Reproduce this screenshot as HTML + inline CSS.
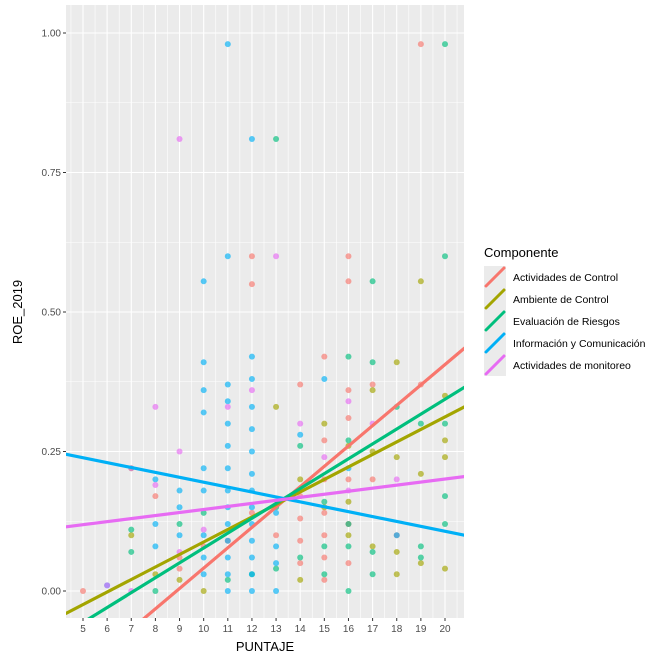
<!DOCTYPE html>
<html><head><meta charset="utf-8"><style>
html,body{margin:0;padding:0;background:#fff;overflow:hidden;width:668px;height:664px}
svg{display:block}
svg text{font-family:"Liberation Sans",sans-serif}
</style></head><body>
<svg id="chart" width="668" height="664" xmlns="http://www.w3.org/2000/svg"></svg>
<script>
const xTicks=[5,6,7,8,9,10,11,12,13,14,15,16,17,18,19,20];
const yTicks=[0,0.25,0.5,0.75,1.0];
const yTickLabels=["0.00","0.25","0.50","0.75","1.00"];
const seriesNames=["Actividades de Control","Ambiente de Control","Evaluación de Riesgos","Información y Comunicación","Actividades de monitoreo"];
const seriesColors=["#F8766D","#A3A500","#00BF7D","#00B0F6","#E76BF3"];
const lineX=[4.3,20.8];
const lineRed=[-0.167,0.435];
const lineOlive=[-0.04,0.33];
const lineGreen=[-0.075,0.365];
const lineBlue=[0.245,0.10];
const linePurple=[0.115,0.205];
const ptsRed=[[5,0],[8,0.17],[9,0.04],[9,0.06],[10,0.08],[11,0.09],[12,0.55],[12,0.6],[12,0.14],[13,0.1],[14,0.05],[14,0.09],[14,0.13],[14,0.17],[14,0.37],[15,0.02],[15,0.06],[15,0.1],[15,0.14],[15,0.2],[15,0.27],[15,0.42],[16,0.6],[16,0.555],[16,0.05],[16,0.12],[16,0.2],[16,0.31],[16,0.36],[17,0.2],[17,0.37],[18,0.1],[19,0.98],[19,0.37]];
const ptsOlive=[[7,0.22],[7,0.1],[8,0.03],[9,0.02],[10,0.0],[13,0.33],[14,0.02],[14,0.2],[15,0.15],[15,0.3],[16,0.1],[16,0.16],[16,0.26],[17,0.08],[17,0.25],[17,0.36],[18,0.03],[18,0.07],[18,0.24],[18,0.41],[19,0.555],[19,0.05],[19,0.21],[20,0.04],[20,0.24],[20,0.27],[20,0.35]];
const ptsGreen=[[7,0.07],[7,0.11],[8,0.0],[9,0.12],[10,0.14],[11,0.02],[12,0.03],[13,0.81],[13,0.04],[13,0.15],[14,0.06],[14,0.26],[15,0.03],[15,0.08],[15,0.16],[16,0.0],[16,0.08],[16,0.12],[16,0.27],[16,0.42],[17,0.555],[17,0.03],[17,0.07],[17,0.41],[18,0.33],[19,0.06],[19,0.08],[19,0.3],[20,0.98],[20,0.6],[20,0.12],[20,0.17],[20,0.3]];
const ptsBlue=[[6,0.01],[8,0.08],[8,0.12],[8,0.2],[9,0.1],[9,0.15],[9,0.18],[10,0.555],[10,0.41],[10,0.36],[10,0.32],[10,0.22],[10,0.18],[10,0.1],[10,0.06],[10,0.03],[11,0.98],[11,0.6],[11,0.37],[11,0.34],[11,0.3],[11,0.26],[11,0.22],[11,0.18],[11,0.15],[11,0.12],[11,0.09],[11,0.06],[11,0.03],[11,0.0],[12,0.81],[12,0.42],[12,0.38],[12,0.33],[12,0.29],[12,0.25],[12,0.21],[12,0.18],[12,0.15],[12,0.12],[12,0.09],[12,0.06],[12,0.03],[12,0.0],[13,0.14],[13,0.08],[13,0.05],[13,0.0],[14,0.28],[15,0.38],[18,0.1],[16,0.22]];
const ptsPurple=[[6,0.01],[7,0.22],[7,0.0],[8,0.33],[8,0.19],[9,0.81],[9,0.25],[9,0.07],[10,0.11],[11,0.33],[12,0.36],[13,0.6],[14,0.3],[15,0.24],[16,0.34],[16,0.18],[17,0.3],[18,0.2]];
const allPts=[ptsRed,ptsOlive,ptsGreen,ptsBlue,ptsPurple];
const allLines=[lineRed,lineOlive,lineGreen,lineBlue,linePurple];

const NS="http://www.w3.org/2000/svg";
const svg=document.getElementById('chart');
const P={l:66,r:464,t:5,b:618};
const X=v=>83+(v-5)*(445-83)/15;
const Y=v=>591-v*558;
function mk(tag,attrs,parent){const e=document.createElementNS(NS,tag);for(const k in attrs)e.setAttribute(k,attrs[k]);(parent||svg).appendChild(e);return e;}

const bg=mk('rect',{x:P.l,y:P.t,width:P.r-P.l,height:P.b-P.t,fill:'#EBEBEB'});


const clip=mk('clipPath',{id:'c'});mk('rect',{x:P.l,y:P.t,width:P.r-P.l,height:P.b-P.t},clip);
const g=mk('g',{'clip-path':'url(#c)'});


for(let v=4.5;v<=21;v+=0.5){mk('line',{x1:X(v),x2:X(v),y1:P.t,y2:P.b,stroke:'#fff','stroke-width':v%1?0.6:1.1},g);}
for(let v=-0.125;v<=1.1;v+=0.125){mk('line',{x1:P.l,x2:P.r,y1:Y(v),y2:Y(v),stroke:'#fff','stroke-width':(v*8)%2?0.6:1.1},g);}
allPts.forEach((arr,si)=>arr.forEach(p=>{
 const c=mk('circle',{cx:X(p[0]),cy:Y(p[1]),r:3,fill:seriesColors[si],'fill-opacity':0.65},g);
 
 
}));
allLines.forEach((L,si)=>{
 const l=mk('line',{x1:X(lineX[0]),y1:Y(L[0]),x2:X(lineX[1]),y2:Y(L[1]),stroke:seriesColors[si],'stroke-width':3.2,'stroke-linecap':'round'},g);
 
 
});
xTicks.forEach(v=>{
 mk('line',{x1:X(v),x2:X(v),y1:P.b,y2:P.b+3,stroke:'#333'});
 const t=mk('text',{x:X(v),y:P.b+14,'font-size':10,fill:'#4d4d4d','text-anchor':'middle'});t.textContent=v;
 
 
});
yTicks.forEach((v,i)=>{
 mk('line',{x1:P.l-3,x2:P.l,y1:Y(v),y2:Y(v),stroke:'#333'});
 const t=mk('text',{x:P.l-5,y:Y(v)+3.5,'font-size':10,fill:'#4d4d4d','text-anchor':'end'});t.textContent=yTickLabels[i];
 
 
});
const xt=mk('text',{x:(P.l+P.r)/2,y:651,'font-size':13,fill:'#000','text-anchor':'middle'});xt.textContent='PUNTAJE';


const yt=mk('text',{x:22,y:312,'font-size':13,fill:'#000','text-anchor':'middle',transform:'rotate(-90 22 312)'});yt.textContent='ROE_2019';


const lg=mk('g',{});


const lt=mk('text',{x:484,y:257,'font-size':13,fill:'#000'},lg);lt.textContent='Componente';


seriesNames.forEach((n,i)=>{
 const y0=266+i*22;
 const e=mk('g',{},lg);
 
 
 mk('rect',{x:484,y:y0,width:22,height:22,fill:'#EBEBEB'},e);
 mk('line',{x1:486,y1:y0+20,x2:504,y2:y0+2,stroke:seriesColors[i],'stroke-width':3,'stroke-linecap':'round'},e);
 const t=mk('text',{x:513,y:y0+15,'font-size':10.5,fill:'#000'},e);t.textContent=n;
});
</script>
</body></html>
